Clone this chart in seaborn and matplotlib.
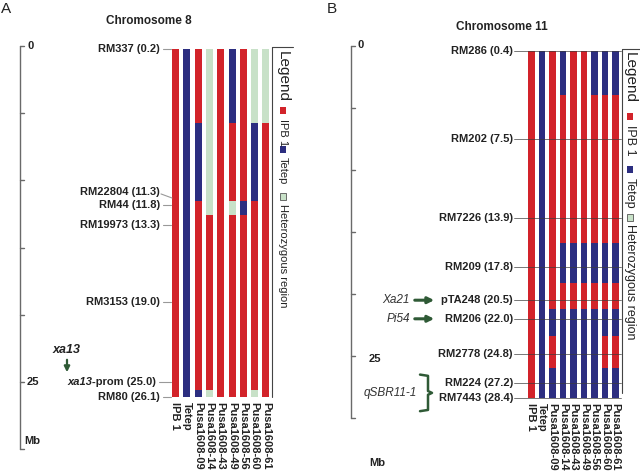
import seaborn as sns
import matplotlib.pyplot as plt
from matplotlib.patches import Rectangle

sns.set_theme(style="white")
plt.rcParams['font.family'] = ['Liberation Sans', 'DejaVu Sans']

# lineas evaluadas (columnas)
lines = ['IPB 1', 'Tetep', 'Pusa1608-09', 'Pusa1608-14', 'Pusa1608-43',
         'Pusa1608-49', 'Pusa1608-56', 'Pusa1608-60', 'Pusa1608-61']

# Cromosoma 8: marcadores, posicion (Mb) y genotipo por marcador
# R = IPB 1, T = Tetep, H = heterocigoto
chr8_markers = ['RM337', 'RM22804', 'RM44', 'RM19973', 'RM3153', 'xa13-prom', 'RM80']
chr8_pos = [0.2, 11.3, 11.8, 13.3, 19.0, 25.0, 26.1]
chr8_geno = {
    'IPB 1':       'RRRRRRR',
    'Tetep':       'TTTTTTT',
    'Pusa1608-09': 'RTRRRRT',
    'Pusa1608-14': 'HHHRRRH',
    'Pusa1608-43': 'RRRRRRR',
    'Pusa1608-49': 'TRHRRRR',
    'Pusa1608-56': 'RRTRRRR',
    'Pusa1608-60': 'HTRRRRH',
    'Pusa1608-61': 'HRRRRRR',
}

# Cromosoma 11
chr11_markers = ['RM286', 'RM202', 'RM7226', 'RM209', 'pTA248', 'RM206',
                 'RM2778', 'RM224', 'RM7443']
chr11_pos = [0.4, 7.5, 13.9, 17.8, 20.5, 22.0, 24.8, 27.2, 28.4]
chr11_geno = {
    'IPB 1':       'RRRRRRRRR',
    'Tetep':       'TTTTTTTTT',
    'Pusa1608-09': 'RRRRRTRTT',
    'Pusa1608-14': 'TRRTRTTTT',
    'Pusa1608-43': 'RRRTRTTTT',
    'Pusa1608-49': 'RRRTRTTTT',
    'Pusa1608-56': 'TRRTRTTTT',
    'Pusa1608-60': 'TRRTRTRTT',
    'Pusa1608-61': 'TRRTRTRTT',
}

scale_ticks = [0, 5, 10, 15, 20, 25, 30]
legend_labels = ['IPB 1', 'Tetep', 'Heterozygous region']

palette = {'R': '#d2232a', 'T': '#2c2e80', 'H': '#c8e1c8'}
arrow_green = '#2f5a36'
axis_gray = '#6a6a6a'

W, H = 640, 474
fig = plt.figure(figsize=(6.4, 4.74), dpi=100)


def make_axes(left, origin, scale):
    ax = fig.add_axes([left / W, 0, 0.5, 1])
    ax.set_xlim(left, left + 320)
    ax.set_ylim((H - origin) / scale, -origin / scale)
    ax.axis('off')
    return ax


def draw_bars(ax, pos, geno, x0, dx, w):
    edges = [pos[0]] + [(a + b) / 2 for a, b in zip(pos[:-1], pos[1:])] + [pos[-1]]
    for j, line in enumerate(lines):
        g = geno[line]
        i = 0
        while i < len(g):
            k = i
            while k + 1 < len(g) and g[k + 1] == g[i]:
                k += 1
            ax.bar(x0 + j * dx, edges[k + 1] - edges[i], bottom=edges[i], width=w,
                   color=palette[g[i]], linewidth=0, zorder=2)
            i = k + 1


def draw_scale(ax, x, px2mb, lab0, lab25, labmb):
    ax.plot([x, x], [scale_ticks[0], scale_ticks[-1]], color=axis_gray, lw=1)
    for t in scale_ticks:
        ax.plot([x, x + 4], [t, t], color=axis_gray, lw=1)
    ax.text(lab0[0], lab0[1], '0', ha='left', va='center', fontsize=8, weight='bold', color='#222')
    ax.text(lab25[0], lab25[1], '25', ha='left', va='center', fontsize=8, weight='bold', color='#222')
    ax.text(labmb[0], px2mb(labmb[1]), 'Mb', ha='left', va='center', fontsize=8, weight='bold', color='#222')


def draw_legend(ax, xline, xtxt, top, bottom, right, px2mb, items, fs):
    # items: inicio de 'Legend', luego (cuadro_ini, cuadro_fin, texto_ini) por entrada
    ax.plot([xline, xline], [px2mb(top), px2mb(bottom)], color='#444', lw=0.8)
    ax.plot([xline, right], [px2mb(top), px2mb(top)], color='#444', lw=0.8)
    ax.text(xtxt, px2mb(items[0]), 'Legend', rotation=-90, ha='center', va='top',
            fontsize=11, color='#222')
    keys = ['R', 'T', 'H']
    for n, lab in enumerate(legend_labels):
        sq_y0, sq_y1, txt_y = items[1 + 3 * n: 4 + 3 * n]
        ax.add_patch(Rectangle((xtxt - 3, px2mb(sq_y0)), 6, px2mb(sq_y1) - px2mb(sq_y0),
                               facecolor=palette[keys[n]], edgecolor='#555' if keys[n] == 'H' else 'none',
                               lw=0.6))
        ax.text(xtxt, px2mb(txt_y), lab, rotation=-90, ha='center', va='top',
                fontsize=fs, color='#222')


# ---------------- Panel A: cromosoma 8 ----------------
oA, sA = 46, 13.45
pxA = lambda p: (p - oA) / sA
axA = make_axes(0, oA, sA)
draw_bars(axA, chr8_pos, chr8_geno, 175.5, 11.3, 7)
draw_scale(axA, 20, pxA, (27, 0), (27, 25), (24, 441))

for m, p in zip(chr8_markers, chr8_pos):
    label_y = p - 0.45 if m == 'RM22804' else p
    x_end = 156 if m == 'xa13-prom' else 160
    if m == 'xa13-prom':
        t = axA.text(x_end, label_y, '-prom (25.0)', ha='right', va='center',
                     fontsize=8, weight='bold', color='#222')
        fig.canvas.draw()
        bb = t.get_window_extent().transformed(axA.transData.inverted())
        axA.text(bb.x0, label_y, 'xa13', ha='right', va='center', fontsize=8,
                 weight='bold', style='italic', color='#222')
    else:
        axA.text(x_end, label_y, f'{m} ({p:.1f})', ha='right', va='center',
                 fontsize=8, weight='bold', color='#222')
    if m == 'RM22804':
        axA.plot([161, 172], [p - 0.3, p], color='#999', lw=0.8)
    else:
        axA.plot([x_end + 3, 171], [p, p], color='#999', lw=0.8)

for j, line in enumerate(lines):
    axA.text(175.5 + j * 11.3, chr8_pos[-1] + 0.35, line, rotation=-90, ha='center',
             va='top', fontsize=8, weight='bold', color='#222')

axA.text(67, pxA(350), 'xa13', ha='center', va='center', fontsize=9,
         weight='bold', style='italic', color='#222')
axA.annotate('', xy=(67, pxA(375)), xytext=(67, pxA(357)),
             arrowprops=dict(arrowstyle='-|>', color=arrow_green, lw=1.6, mutation_scale=8))

draw_legend(axA, 272, 283, 47, 397, 293, pxA,
            [51, 107, 114, 119, 146, 153, 157, 193, 200, 204], 8)

# ---------------- Panel B: cromosoma 11 ----------------
oB, sB = 46, 12.4
pxB = lambda p: (p - oB) / sB
axB = make_axes(320, oB, sB)
draw_bars(axB, chr11_pos, chr11_geno, 531.5, 10.5, 6.8)
draw_scale(axB, 351, pxB, (357, -0.1), (369, 25.25), (369, 463))

for m, p in zip(chr11_markers, chr11_pos):
    axB.text(513, p, f'{m} ({p:.1f})', ha='right', va='center',
             fontsize=8, weight='bold', color='#222')
    axB.plot([514, 621], [p, p], color='#3a3a3a', lw=0.6, alpha=0.8, zorder=3)

for j, line in enumerate(lines):
    axB.text(531.5 + j * 10.5, chr11_pos[-1] + 0.4, line, rotation=-90, ha='center',
             va='top', fontsize=8, weight='bold', color='#222')

for gene, mk in [('Xa21', 'pTA248'), ('Pi54', 'RM206')]:
    p = chr11_pos[chr11_markers.index(mk)]
    axB.text(410, p, gene, ha='right', va='center', fontsize=8.5,
             style='italic', color='#333')
    axB.annotate('', xy=(437, p), xytext=(412, p),
                 arrowprops=dict(arrowstyle='-|>', color=arrow_green, lw=2.2, mutation_scale=9))

top_q = chr11_pos[chr11_markers.index('RM224')] - 0.7
bot_q = chr11_pos[chr11_markers.index('RM7443')] + 1.05
mid_q = (top_q + bot_q) / 2
axB.plot([420, 428, 428, 432, 428, 428, 420],
         [top_q, top_q + 0.1, mid_q - 0.15, mid_q, mid_q + 0.15, bot_q - 0.1, bot_q],
         color=arrow_green, lw=1.8, solid_joinstyle='round')
axB.text(417, mid_q, 'qSBR11-1', ha='right', va='center', fontsize=8.5,
         style='italic', color='#333')

draw_legend(axB, 622, 630, 49, 393, 640, pxB,
            [52, 113, 120, 125, 166, 173, 178, 214, 221, 224], 9)

# titulos y letras de panel
fig.text(149 / W, 1 - 21 / H, 'Chromosome 8', ha='center', va='center',
         fontsize=8.5, weight='bold', color='#222')
fig.text(502 / W, 1 - 27 / H, 'Chromosome 11', ha='center', va='center',
         fontsize=8.5, weight='bold', color='#222')
fig.text(1 / W, 1 - 9 / H, 'A', ha='left', va='center', fontsize=11, color='#222')
fig.text(327 / W, 1 - 9 / H, 'B', ha='left', va='center', fontsize=11, color='#222')

fig.savefig('out.png', dpi=100)
